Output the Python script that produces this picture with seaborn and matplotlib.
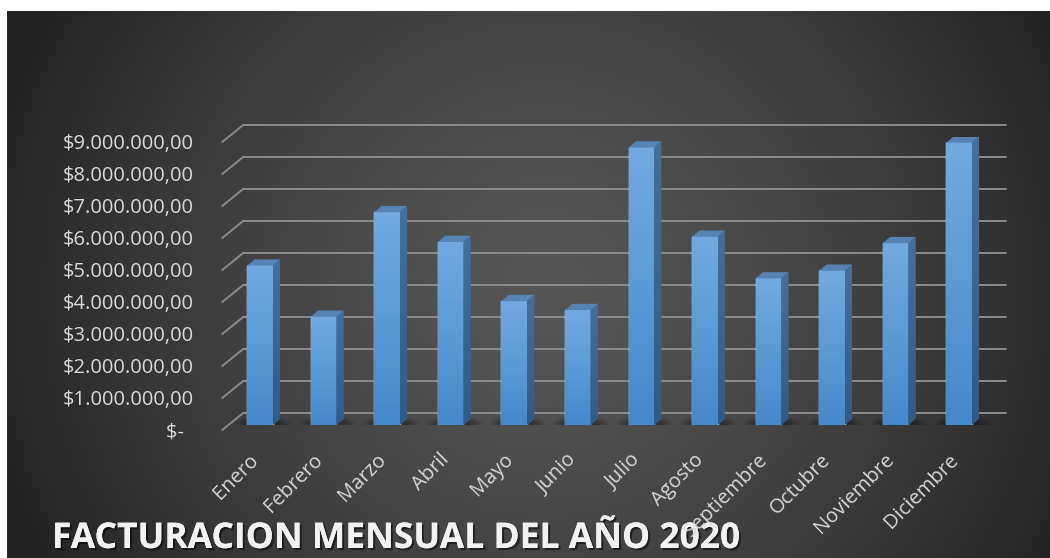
import numpy as np
import matplotlib
matplotlib.use("Agg")
import matplotlib.pyplot as plt
import matplotlib.transforms as mtransforms
import matplotlib.patheffects as pe
from matplotlib.colors import LinearSegmentedColormap
from matplotlib.patches import Polygon, Ellipse
import seaborn as sns

# Datos del gráfico
meses = ["Enero", "Febrero", "Marzo", "Abril", "Mayo", "Junio", "Julio",
         "Agosto", "Septiembre", "Octubre", "Noviembre", "Diciembre"]
facturacion = [4980000, 3380000, 6650000, 5720000, 3870000, 3590000,
               8670000, 5880000, 4580000, 4820000, 5680000, 8820000]
marcas_y = [0, 1000000, 2000000, 3000000, 4000000, 5000000,
            6000000, 7000000, 8000000, 9000000]
titulo = "FACTURACION MENSUAL DEL AÑO 2020"


def formato_pesos(v):
    if v == 0:
        return "$-  "
    s = f"${v:,.2f}"
    return s.replace(",", "X").replace(".", ",").replace("X", ".")


sns.set_style("dark")
plt.rcParams["font.family"] = ["Open Sans", "DejaVu Sans"]

W, H = 1050, 558
fig = plt.figure(figsize=(W / 100, H / 100), dpi=100, facecolor="white")

# Fondo con degradado radial
fondo = fig.add_axes([7 / W, 0, 1 - 7 / W, (H - 11) / H], zorder=0)
yy, xx = np.mgrid[0:H - 11, 0:W - 7]
r = np.hypot((xx + 7 - 545) / 560, (yy + 11 - 290) / 560)
val = 0.335 - 0.19 * np.clip(r, 0, 1) ** 1.4
fondo.imshow(np.dstack([val] * 3), aspect="auto", interpolation="bilinear")
fondo.axis("off")

# Ejes principales (plano frontal de las barras)
x_izq, x_der, y_cero, y_tope = 228.2, 990.8, 425, 137
ax = fig.add_axes([x_izq / W, (H - y_cero) / H, (x_der - x_izq) / W, (y_cero - y_tope) / H],
                  zorder=1)
ax.set_facecolor("none")
sns.barplot(x=meses, y=facturacion, color="#5b9bd5", saturation=1, width=0.4,
            ax=ax, zorder=3)
ax.set_xlim(-0.5, 11.5)
ax.set_ylim(0, 9000000)
for s in ax.spines.values():
    s.set_visible(False)
ax.grid(False)
ax.set_xlabel("")
ax.set_ylabel("")

# Profundidad de las barras en unidades de datos
px_x = ax.bbox.width / 12
px_y = ax.bbox.height / 9000000
prof_x = 7.3 / px_x
prof_y = 6.3 / px_y

# Líneas de división en la pared del fondo
ident = mtransforms.IdentityTransform()
for v in marcas_y:
    xa, ya = ax.transData.transform((-0.5, v))
    xb, _ = ax.transData.transform((11.5, v))
    ax.plot([xa + 15, xb + 15], [ya + 12, ya + 12], transform=ident,
            color="#8c8c8c", lw=1.4, zorder=1, clip_on=False)
    ax.plot([xa - 6, xa + 15], [ya - 5, ya + 12], transform=ident,
            color="#8c8c8c", lw=1.4, zorder=1, clip_on=False)

cmap_frente = LinearSegmentedColormap.from_list("frente", ["#72a9e1", "#5b9bd5", "#4688cc"])
cmap_lado = LinearSegmentedColormap.from_list("lado", ["#45709e", "#2f5b88"])
grad = np.linspace(0, 1, 64)[:, None]

for barra in list(ax.patches):
    x0 = barra.get_x()
    w = barra.get_width()
    h = barra.get_height()
    x1 = x0 + w

    # sombra en el piso
    for k in range(6):
        ax.add_patch(Ellipse((x0 + w / 2 + prof_x / 2, prof_y * 0.2),
                             width=w * (1.1 + 0.22 * k), height=prof_y * (0.9 + 0.3 * k),
                             facecolor="black", alpha=0.07, edgecolor="none", zorder=2))

    ax.imshow(grad, cmap=cmap_frente, extent=[x0, x1, 0, h], aspect="auto", zorder=3.1)

    lado = Polygon([(x1, 0), (x1, h), (x1 + prof_x, h + prof_y), (x1 + prof_x, prof_y)],
                   closed=True, facecolor="#3b6896", edgecolor="none", zorder=3)
    ax.add_patch(lado)
    img = ax.imshow(grad, cmap=cmap_lado, extent=[x1, x1 + prof_x, 0, h + prof_y],
                    aspect="auto", zorder=3.1)
    img.set_clip_path(lado)

    tapa = Polygon([(x0, h), (x1, h), (x1 + prof_x, h + prof_y), (x0 + prof_x, h + prof_y)],
                   closed=True, facecolor="#5683b4", edgecolor="none", zorder=3.2)
    ax.add_patch(tapa)

ax.set_aspect("auto")
ax.set_xlim(-0.5, 11.5)
ax.set_ylim(0, 9000000)

# Etiquetas del eje Y
ax.set_yticks(marcas_y)
ax.set_yticklabels([formato_pesos(v) for v in marcas_y])
ax.tick_params(axis="y", length=0, pad=24.6, labelsize=14.5, labelcolor="#d9d9d9")
baja = mtransforms.ScaledTranslation(0, -0.05, fig.dpi_scale_trans)
for lab in ax.get_yticklabels():
    lab.set_transform(lab.get_transform() + baja)

# Etiquetas del eje X
ax.set_xticks(range(len(meses)))
ax.set_xticklabels(meses, rotation=45, ha="right", va="center", rotation_mode="anchor")
ax.tick_params(axis="x", length=0, pad=23, labelsize=14.5, labelcolor="#d9d9d9")
izq = mtransforms.ScaledTranslation(-0.04, 0, fig.dpi_scale_trans)
for lab in ax.get_xticklabels():
    lab.set_transform(lab.get_transform() + izq)

# Título abajo
fig.text(52 / W, (H - 548) / H, titulo, fontsize=25.5, fontweight="bold", color="#f2f2f2",
         ha="left", va="baseline", zorder=0.5,
         path_effects=[pe.withSimplePatchShadow(offset=(1.5, -1.5), shadow_rgbFace="black",
                                                alpha=0.5), pe.Normal()])

fig.savefig("out.png", dpi=100, facecolor="white")
